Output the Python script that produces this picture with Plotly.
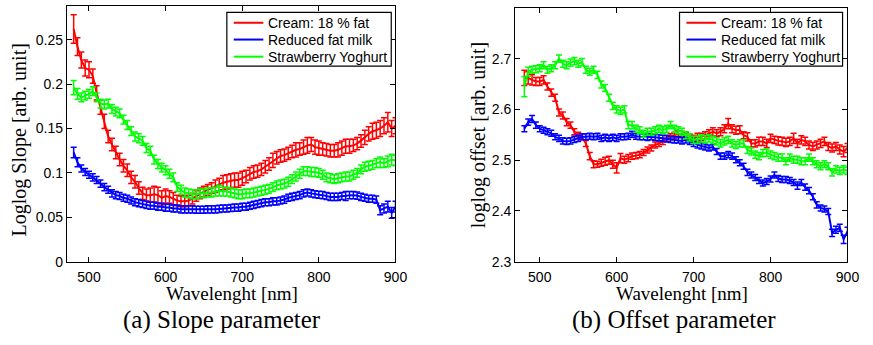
import plotly.graph_objects as go

# Wavelength grid [nm]
wavelength = [480, 485, 490, 495, 500, 505, 510, 515, 520, 525,
              530, 535, 540, 545, 550, 555, 560, 565, 570, 575,
              580, 585, 590, 595, 600, 605, 610, 615, 620, 625,
              630, 635, 640, 645, 650, 655, 660, 665, 670, 675,
              680, 685, 690, 695, 700, 705, 710, 715, 720, 725,
              730, 735, 740, 745, 750, 755, 760, 765, 770, 775,
              780, 785, 790, 795, 800, 805, 810, 815, 820, 825,
              830, 835, 840, 845, 850, 855, 860, 865, 870, 875,
              880, 885, 890, 895, 900]

series_names = ["Cream: 18 % fat", "Reduced fat milk", "Strawberry Yoghurt"]

# ---- (a) Slope parameter ----
slope_cream = [0.262, 0.242, 0.227, 0.218, 0.216, 0.209, 0.190, 0.174, 0.158, 0.141,
               0.132, 0.123, 0.115, 0.108, 0.103, 0.095, 0.090, 0.083, 0.077, 0.075,
               0.075, 0.076, 0.075, 0.072, 0.074, 0.073, 0.071, 0.069, 0.068, 0.068,
               0.069, 0.071, 0.074, 0.077, 0.079, 0.081, 0.083, 0.085, 0.087, 0.089,
               0.090, 0.091, 0.092, 0.092, 0.094, 0.096, 0.099, 0.101, 0.102, 0.104,
               0.107, 0.110, 0.114, 0.117, 0.119, 0.120, 0.122, 0.124, 0.126, 0.127,
               0.129, 0.131, 0.132, 0.129, 0.128, 0.127, 0.126, 0.125, 0.125, 0.126,
               0.128, 0.130, 0.130, 0.131, 0.133, 0.136, 0.140, 0.144, 0.147, 0.148,
               0.150, 0.153, 0.157, 0.150, 0.153]
slope_cream_err = [0.016, 0.010, 0.009, 0.009, 0.009, 0.008, 0.008, 0.008, 0.008, 0.007,
                   0.007, 0.007, 0.007, 0.007, 0.007, 0.007, 0.007, 0.007, 0.007, 0.007,
                   0.008, 0.009, 0.009, 0.008, 0.008, 0.007, 0.007, 0.006, 0.006, 0.006,
                   0.006, 0.006, 0.006, 0.006, 0.006, 0.006, 0.006, 0.007, 0.007, 0.008,
                   0.008, 0.008, 0.008, 0.008, 0.008, 0.007, 0.007, 0.007, 0.007, 0.007,
                   0.007, 0.007, 0.008, 0.007, 0.007, 0.007, 0.007, 0.007, 0.008, 0.007,
                   0.008, 0.009, 0.008, 0.008, 0.008, 0.007, 0.007, 0.007, 0.007, 0.008,
                   0.008, 0.008, 0.008, 0.007, 0.007, 0.007, 0.008, 0.008, 0.009, 0.009,
                   0.009, 0.009, 0.011, 0.009, 0.009]

slope_milk = [0.123, 0.112, 0.105, 0.101, 0.098, 0.095, 0.092, 0.088, 0.084, 0.081,
              0.077, 0.075, 0.074, 0.072, 0.071, 0.069, 0.067, 0.066, 0.065, 0.064,
              0.063, 0.063, 0.062, 0.062, 0.061, 0.061, 0.060, 0.060, 0.059, 0.059,
              0.059, 0.059, 0.0585, 0.0585, 0.0585, 0.059, 0.059, 0.059, 0.0595, 0.060,
              0.060, 0.0605, 0.061, 0.061, 0.062, 0.062, 0.063, 0.064, 0.065, 0.066,
              0.067, 0.067, 0.068, 0.068, 0.069, 0.070, 0.072, 0.073, 0.074, 0.075,
              0.077, 0.078, 0.077, 0.076, 0.0755, 0.075, 0.074, 0.073, 0.073, 0.073,
              0.074, 0.074, 0.075, 0.075, 0.0745, 0.073, 0.072, 0.071, 0.071, 0.070,
              0.058, 0.060, 0.062, 0.055, 0.062]
slope_milk_err = [0.006, 0.005, 0.004, 0.004, 0.004, 0.004, 0.004, 0.004, 0.004, 0.004,
                  0.004, 0.004, 0.004, 0.004, 0.004, 0.004, 0.004, 0.004, 0.004, 0.004,
                  0.004, 0.004, 0.004, 0.004, 0.004, 0.004, 0.004, 0.004, 0.004, 0.004,
                  0.004, 0.004, 0.004, 0.004, 0.004, 0.004, 0.004, 0.004, 0.004, 0.004,
                  0.004, 0.004, 0.004, 0.004, 0.004, 0.004, 0.004, 0.004, 0.004, 0.004,
                  0.004, 0.004, 0.004, 0.004, 0.004, 0.004, 0.004, 0.004, 0.004, 0.004,
                  0.004, 0.004, 0.004, 0.004, 0.004, 0.004, 0.004, 0.004, 0.004, 0.004,
                  0.004, 0.005, 0.004, 0.004, 0.004, 0.004, 0.004, 0.004, 0.004, 0.004,
                  0.005, 0.005, 0.006, 0.006, 0.006]

slope_yoghurt = [0.196, 0.189, 0.185, 0.187, 0.189, 0.192, 0.185, 0.178, 0.177, 0.178,
                 0.172, 0.169, 0.167, 0.160, 0.154, 0.147, 0.141, 0.139, 0.136, 0.128,
                 0.125, 0.115, 0.110, 0.106, 0.103, 0.099, 0.095, 0.084, 0.081, 0.078,
                 0.077, 0.076, 0.076, 0.077, 0.077, 0.078, 0.078, 0.079, 0.080, 0.079,
                 0.079, 0.078, 0.077, 0.076, 0.076, 0.077, 0.077, 0.078, 0.079, 0.080,
                 0.081, 0.082, 0.084, 0.086, 0.087, 0.088, 0.090, 0.093, 0.096, 0.099,
                 0.102, 0.102, 0.101, 0.101, 0.100, 0.098, 0.095, 0.094, 0.093, 0.094,
                 0.095, 0.096, 0.096, 0.098, 0.100, 0.104, 0.107, 0.108, 0.109, 0.111,
                 0.112, 0.111, 0.113, 0.115, 0.114]
slope_yoghurt_err = [0.008, 0.006, 0.005, 0.005, 0.005, 0.005, 0.005, 0.005, 0.005, 0.005,
                     0.005, 0.005, 0.005, 0.005, 0.005, 0.005, 0.005, 0.005, 0.005, 0.005,
                     0.005, 0.005, 0.005, 0.005, 0.005, 0.005, 0.005, 0.005, 0.005, 0.005,
                     0.005, 0.005, 0.005, 0.005, 0.005, 0.005, 0.005, 0.005, 0.006, 0.005,
                     0.005, 0.005, 0.005, 0.005, 0.005, 0.005, 0.005, 0.005, 0.005, 0.005,
                     0.005, 0.005, 0.005, 0.005, 0.005, 0.005, 0.005, 0.005, 0.005, 0.005,
                     0.005, 0.005, 0.005, 0.005, 0.005, 0.005, 0.005, 0.005, 0.005, 0.005,
                     0.005, 0.005, 0.005, 0.005, 0.005, 0.005, 0.005, 0.005, 0.005, 0.005,
                     0.006, 0.005, 0.006, 0.006, 0.006]

# ---- (b) Offset parameter ----
offset_cream = [2.662, 2.662, 2.658, 2.655, 2.655, 2.658, 2.645, 2.633, 2.623, 2.594,
                2.588, 2.575, 2.569, 2.556, 2.549, 2.546, 2.533, 2.508, 2.492, 2.492,
                2.495, 2.498, 2.500, 2.492, 2.485, 2.504, 2.501, 2.504, 2.508, 2.509,
                2.511, 2.515, 2.520, 2.524, 2.530, 2.533, 2.537, 2.543, 2.546, 2.549,
                2.552, 2.551, 2.549, 2.546, 2.543, 2.546, 2.546, 2.549, 2.553, 2.556,
                2.553, 2.556, 2.562, 2.572, 2.562, 2.559, 2.560, 2.549, 2.546, 2.533,
                2.533, 2.537, 2.537, 2.533, 2.543, 2.540, 2.538, 2.537, 2.535, 2.537,
                2.543, 2.533, 2.540, 2.537, 2.530, 2.527, 2.530, 2.533, 2.537, 2.527,
                2.524, 2.527, 2.521, 2.517, 2.524]
offset_cream_err = [0.015, 0.012, 0.010, 0.008, 0.008, 0.008, 0.007, 0.007, 0.007, 0.007,
                    0.007, 0.007, 0.006, 0.006, 0.006, 0.006, 0.006, 0.007, 0.007, 0.006,
                    0.007, 0.008, 0.008, 0.008, 0.010, 0.009, 0.007, 0.007, 0.006, 0.006,
                    0.006, 0.006, 0.006, 0.006, 0.006, 0.006, 0.006, 0.006, 0.006, 0.006,
                    0.006, 0.006, 0.006, 0.006, 0.006, 0.007, 0.007, 0.007, 0.007, 0.008,
                    0.007, 0.008, 0.008, 0.010, 0.008, 0.008, 0.008, 0.007, 0.008, 0.007,
                    0.007, 0.008, 0.008, 0.008, 0.008, 0.007, 0.008, 0.008, 0.008, 0.008,
                    0.010, 0.008, 0.008, 0.008, 0.008, 0.008, 0.008, 0.008, 0.008, 0.008,
                    0.008, 0.008, 0.009, 0.010, 0.009]

offset_milk = [2.562, 2.575, 2.581, 2.569, 2.562, 2.559, 2.556, 2.553, 2.546, 2.543,
               2.538, 2.537, 2.538, 2.541, 2.543, 2.546, 2.546, 2.547, 2.546, 2.547,
               2.543, 2.545, 2.543, 2.545, 2.543, 2.546, 2.546, 2.547, 2.551, 2.547,
               2.546, 2.546, 2.545, 2.546, 2.545, 2.544, 2.543, 2.542, 2.541, 2.540,
               2.540, 2.538, 2.540, 2.537, 2.533, 2.530, 2.528, 2.526, 2.524, 2.526,
               2.517, 2.508, 2.508, 2.511, 2.508, 2.501, 2.495, 2.488, 2.476, 2.471,
               2.466, 2.460, 2.455, 2.458, 2.463, 2.471, 2.464, 2.462, 2.462, 2.460,
               2.456, 2.450, 2.456, 2.447, 2.440, 2.428, 2.412, 2.406, 2.404, 2.399,
               2.357, 2.363, 2.367, 2.344, 2.360]
offset_milk_err = [0.006, 0.006, 0.007, 0.006, 0.006, 0.006, 0.006, 0.006, 0.006, 0.006,
                   0.006, 0.006, 0.006, 0.006, 0.006, 0.006, 0.006, 0.006, 0.006, 0.006,
                   0.006, 0.006, 0.006, 0.006, 0.006, 0.006, 0.006, 0.006, 0.006, 0.006,
                   0.006, 0.006, 0.006, 0.006, 0.006, 0.006, 0.006, 0.006, 0.006, 0.006,
                   0.006, 0.006, 0.006, 0.006, 0.006, 0.006, 0.006, 0.006, 0.006, 0.006,
                   0.006, 0.006, 0.006, 0.006, 0.006, 0.006, 0.006, 0.006, 0.006, 0.006,
                   0.006, 0.006, 0.006, 0.006, 0.006, 0.006, 0.006, 0.006, 0.006, 0.006,
                   0.006, 0.007, 0.006, 0.006, 0.006, 0.006, 0.006, 0.006, 0.006, 0.006,
                   0.007, 0.007, 0.007, 0.008, 0.008]

offset_yoghurt = [2.645, 2.674, 2.678, 2.679, 2.681, 2.687, 2.678, 2.681, 2.687, 2.700,
                  2.690, 2.687, 2.692, 2.695, 2.690, 2.693, 2.678, 2.674, 2.678, 2.668,
                  2.649, 2.642, 2.623, 2.607, 2.600, 2.597, 2.600, 2.569, 2.569, 2.562,
                  2.559, 2.552, 2.556, 2.556, 2.559, 2.562, 2.559, 2.562, 2.569, 2.562,
                  2.559, 2.556, 2.549, 2.545, 2.540, 2.540, 2.543, 2.541, 2.543, 2.540,
                  2.537, 2.533, 2.537, 2.540, 2.533, 2.530, 2.533, 2.533, 2.520, 2.517,
                  2.511, 2.508, 2.514, 2.515, 2.511, 2.508, 2.505, 2.505, 2.498, 2.505,
                  2.501, 2.501, 2.498, 2.498, 2.505, 2.498, 2.492, 2.488, 2.492, 2.488,
                  2.476, 2.482, 2.479, 2.482, 2.479]
offset_yoghurt_err = [0.020, 0.009, 0.007, 0.007, 0.007, 0.007, 0.007, 0.007, 0.007, 0.007,
                      0.007, 0.007, 0.007, 0.007, 0.007, 0.007, 0.007, 0.007, 0.007, 0.007,
                      0.007, 0.007, 0.007, 0.007, 0.007, 0.007, 0.007, 0.007, 0.007, 0.007,
                      0.007, 0.007, 0.007, 0.007, 0.007, 0.007, 0.007, 0.007, 0.007, 0.007,
                      0.007, 0.007, 0.007, 0.007, 0.007, 0.007, 0.007, 0.007, 0.007, 0.007,
                      0.007, 0.007, 0.007, 0.007, 0.007, 0.007, 0.007, 0.007, 0.007, 0.007,
                      0.007, 0.007, 0.007, 0.007, 0.007, 0.007, 0.007, 0.007, 0.007, 0.007,
                      0.007, 0.007, 0.007, 0.007, 0.007, 0.007, 0.007, 0.007, 0.007, 0.007,
                      0.007, 0.007, 0.007, 0.007, 0.007]

colors = ["#ff0000", "#0000ff", "#00ff00"]

slope_data = [(slope_cream, slope_cream_err), (slope_milk, slope_milk_err),
              (slope_yoghurt, slope_yoghurt_err)]
offset_data = [(offset_cream, offset_cream_err), (offset_milk, offset_milk_err),
               (offset_yoghurt, offset_yoghurt_err)]

fig = go.Figure()

for (vals, errs), name, col in zip(slope_data, series_names, colors):
    fig.add_trace(go.Scatter(
        x=wavelength, y=vals, mode="lines", name=name, showlegend=False,
        line=dict(color=col, width=2),
        error_y=dict(type="data", array=errs, visible=True, color=col,
                     thickness=1.5, width=3),
        xaxis="x", yaxis="y"))

for (vals, errs), name, col in zip(offset_data, series_names, colors):
    fig.add_trace(go.Scatter(
        x=wavelength, y=vals, mode="lines", name=name, showlegend=False,
        line=dict(color=col, width=2),
        error_y=dict(type="data", array=errs, visible=True, color=col,
                     thickness=1.5, width=3),
        xaxis="x2", yaxis="y2"))

sans = "Liberation Sans, Arial, sans-serif"
serif = "Liberation Serif, Times New Roman, serif"
tick_font = dict(family=sans, size=14, color="black")
axis_common = dict(showline=True, linecolor="black", linewidth=1, mirror="ticks",
                   ticks="inside", ticklen=5, tickcolor="black", tickwidth=1,
                   showgrid=False, zeroline=False, tickfont=tick_font)

H = 345.0
W = 873.0

fig.update_layout(
    width=873, height=345, autosize=False,
    margin=dict(l=0, r=0, t=0, b=0),
    paper_bgcolor="white", plot_bgcolor="white",
    showlegend=False,
    xaxis=dict(domain=[67.7 / W, 401 / W], range=[471, 900],
               tickvals=[500, 600, 700, 800, 900], anchor="y",
               ticklabelstandoff=2, **axis_common),
    yaxis=dict(domain=[1 - 268 / H, 1 - 6 / H], range=[0, 0.288],
               tickvals=[0, 0.05, 0.1, 0.15, 0.2, 0.25],
               ticktext=["0", "0.05", "0.1", "0.15", "0.2", "0.25"],
               anchor="x", **axis_common),
    xaxis2=dict(domain=[522.3 / W, 859.3 / W], range=[468, 900],
                tickvals=[500, 600, 700, 800, 900], anchor="y2",
                ticklabelstandoff=2, **axis_common),
    yaxis2=dict(domain=[1 - 268 / H, 1 - 8 / H], range=[2.3, 2.8],
                tickvals=[2.3, 2.4, 2.5, 2.6, 2.7, 2.8],
                ticktext=["2.3", "2.4", "2.5", "2.6", "2.7", "2.8"],
                anchor="x2", **axis_common),
)

# Legends drawn as boxed keys in the upper right of each panel (paper pixels)
legend_boxes = [(230, 396.7), (689, 854.3)]
legend_top, legend_bottom = 12.7, 67.7
row_y = [23.3, 40.5, 58.0]
for (bx0, bx1) in legend_boxes:
    fig.add_shape(type="rect", xref="paper", yref="paper",
                  x0=bx0 / W, x1=bx1 / W, y0=1 - legend_bottom / H, y1=1 - legend_top / H,
                  line=dict(color="black", width=1.2), fillcolor="white", layer="above")
    for name, col, ry in zip(series_names, colors, row_y):
        fig.add_shape(type="line", xref="paper", yref="paper",
                      x0=(bx0 + 7) / W, x1=(bx0 + 37) / W, y0=1 - ry / H, y1=1 - ry / H,
                      line=dict(color=col, width=2), layer="above")
        fig.add_annotation(text=name, xref="paper", yref="paper", showarrow=False,
                           x=(bx0 + 40) / W, y=1 - ry / H, xanchor="left", yanchor="middle",
                           font=dict(family=sans, size=14, color="black"))

annots = [
    dict(text="Loglog Slope [arb. unit]", x=20 / W, y=1 - 143 / H, textangle=-90,
         font=dict(family=serif, size=20, color="black")),
    dict(text="loglog offset [arb. unit]", x=485 / W, y=1 - 138 / H, textangle=-90,
         font=dict(family=serif, size=20, color="black")),
    dict(text="Wavelenght [nm]", x=235 / W, y=1 - 300 / H,
         font=dict(family=serif, size=19, color="black")),
    dict(text="Wavelenght [nm]", x=692 / W, y=1 - 300 / H,
         font=dict(family=serif, size=19, color="black")),
    dict(text="(a) Slope parameter", x=225 / W, y=1 - 328 / H,
         font=dict(family=serif, size=25, color="black")),
    dict(text="(b) Offset parameter", x=683.5 / W, y=1 - 328 / H,
         font=dict(family=serif, size=25, color="black")),
]
for a in annots:
    fig.add_annotation(xref="paper", yref="paper", showarrow=False,
                       xanchor="center", yanchor="middle", borderpad=0, **a)

fig.write_html("out.html")
